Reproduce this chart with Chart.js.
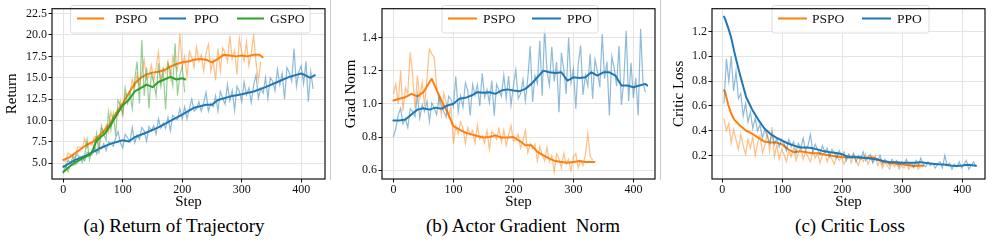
<!DOCTYPE html>
<html>
<head>
<meta charset="utf-8">
<script src="https://cdn.jsdelivr.net/npm/chart.js@4.4.1/dist/chart.umd.min.js"></script>
<style>
  html,body{margin:0;padding:0;background:#fff;}
  #wrap{position:relative;width:996px;height:245px;overflow:hidden;background:#fff;font-family:"Liberation Serif","Times New Roman",serif;}
  canvas{position:absolute;top:0;}
  .cap{position:absolute;top:214px;width:300px;text-align:center;font-size:19px;line-height:24px;color:#000;white-space:pre;}
  .sep{position:absolute;top:0;width:1px;height:180px;background:#c8c8c8;}
</style>
</head>
<body>
<div id="wrap">
  <canvas id="ca" width="330" height="212" style="left:0px"></canvas>
  <canvas id="cb" width="330" height="212" style="left:330px"></canvas>
  <canvas id="cc" width="336" height="212" style="left:660px"></canvas>
  <div class="sep" style="left:330px"></div>
  <div class="sep" style="left:660px"></div>
  <div class="cap" style="left:24px">(a) Return of Trajectory</div>
  <div class="cap" style="left:373px">(b) Actor Gradient  Norm</div>
  <div class="cap" style="left:700px">(c) Critic Loss</div>
</div>
<script>
// ---------------- DATA ----------------
const xTicks = [0, 100, 200, 300, 400];
const yTicksA = [5.0, 7.5, 10.0, 12.5, 15.0, 17.5, 20.0, 22.5];
const yTicksB = [0.6, 0.8, 1.0, 1.2, 1.4];
const yTicksC = [0.2, 0.4, 0.6, 0.8, 1.0, 1.2];
const seriesNamesA = ['PSPO', 'PPO', 'GSPO'];
const seriesNamesBC = ['PSPO', 'PPO'];

// step positions of the logged (raw) points
function grid(start, end, step){ const r=[]; for(let v=start; v<=end; v+=step) r.push(v); return r; }
const rawStepsPPO  = grid(0, 420, 4);
const rawStepsPSPO = grid(0, 332, 4);
const rawStepsGSPO = grid(0, 204, 4);
const rawStepsPPOc  = grid(3, 423, 4);
const rawStepsPSPOc = grid(3, 335, 4);

// (a) Return of Trajectory — raw
const retPPORaw = [
 4.8,4.5,5.4,5.0,4.8,5.7,6.1,5.4,5.8,5.3,
 6.3,6.2,6.0,7.2,6.1,6.9,6.7,7.3,6.5,7.5,
 7.3,7.0,8.0,8.7,7.4,6.8,8.4,8.0,7.5,9.2,
 7.4,8.3,7.8,9.2,8.8,7.6,9.3,8.8,9.4,8.4,
 10.2,9.1,9.7,9.1,10.4,8.8,10.6,10.3,10.1,11.4,
 10.2,11.6,10.2,11.4,12.5,11.1,11.4,12.2,11.1,12.1,
 13.3,11.1,12.0,11.6,12.9,11.1,13.4,12.6,11.9,14.2,
 12.3,13.5,11.2,14.0,13.4,12.2,14.5,13.0,13.8,12.1,
 14.1,15.3,12.6,13.8,13.2,15.0,12.6,15.0,14.6,13.5,
 16.0,14.2,15.5,12.5,16.2,15.6,14.6,18.4,14.0,15.7,
 16.4,14.3,16.9,12.2,15.7,13.7];
const retPSPORaw = [
 5.4,5.2,6.2,6.0,5.8,5.7,6.9,6.9,6.7,7.9,
 6.8,7.4,7.1,8.1,8.1,7.0,9.1,8.7,9.5,8.6,
 11.0,10.0,10.9,10.6,12.3,10.7,13.0,13.1,13.1,14.8,
 13.8,15.4,14.0,15.5,17.1,14.8,15.2,16.5,14.6,16.2,
 18.0,14.6,16.1,15.6,16.9,14.9,17.5,16.5,15.9,20.2,
 16.3,17.5,15.1,18.1,17.4,16.2,18.6,16.9,17.7,15.8,
 17.9,18.9,15.8,17.0,14.7,18.4,15.8,18.5,17.9,16.9,
 19.9,17.2,18.2,15.4,19.6,18.0,17.0,19.2,16.4,17.9,
 20.0,16.8,14.6,16.9];
const retGSPORaw = [
 3.8,4.8,4.0,4.9,5.8,4.8,5.1,5.8,5.1,6.0,
 7.8,5.4,6.5,6.5,8.5,6.1,9.4,8.4,7.7,11.0,
 8.9,10.8,8.2,12.4,11.8,10.7,13.8,12.0,13.2,11.4,
 14.7,16.9,12.0,19.4,12.9,16.2,11.4,15.5,14.5,12.9,
 16.7,14.0,15.8,11.3,16.7,15.8,14.1,19.0,12.9,15.3,
 16.3,13.3];
// (a) smoothed
const retPSPOSteps = [0,10,20,30,40,50,60,70,80,90,100,110,120,130,140,150,160,170,180,190,200,210,220,230,240,250,260,270,280,290,300,310,320,330,335];
const retPSPOSmooth = [5.4,5.7,6.2,6.7,7.2,7.5,8.2,8.9,9.8,11.0,12.0,13.2,14.3,15.0,15.4,15.6,15.7,15.9,16.3,16.6,16.8,16.9,17.1,17.2,17.1,16.8,17.2,17.7,17.6,17.5,17.6,17.5,17.7,17.7,17.4];
const retPPOSteps = [0,20,40,60,80,100,110,120,140,160,180,200,220,240,250,260,280,300,320,340,360,380,400,410,415,423];
const retPPOSmooth = [4.6,5.4,5.95,6.7,7.3,7.7,7.55,8.05,8.6,9.2,9.95,10.7,11.5,11.85,11.85,12.4,12.8,13.07,13.4,13.9,14.5,15.1,15.5,15.2,15.0,15.3];
const retGSPOSteps = [0,10,20,30,40,45,50,55,60,70,80,90,100,110,120,130,140,150,160,170,180,190,200,205];
const retGSPOSmooth = [4.0,4.6,5.1,5.5,5.85,6.0,6.6,7.5,7.9,8.5,9.5,10.7,11.8,12.4,13.4,13.8,14.2,13.9,14.5,14.8,15.1,14.8,14.95,14.8];

// (b) Actor Gradient Norm — raw
const gradPSPORaw = [
 1.06,1.12,1.00,1.20,0.956,1.096,1.064,1.31,1.177,0.973,
 1.17,1.031,1.129,0.986,1.154,1.33,1.30,1.28,1.108,1.02,
 0.932,1.064,1.004,0.923,0.984,0.76,0.867,0.819,0.891,0.854,
 0.761,0.857,0.813,0.839,0.765,0.871,0.787,0.809,0.763,0.839,
 0.725,0.834,0.813,0.787,0.852,0.767,0.842,0.747,0.813,0.869,
 0.775,0.781,0.817,0.732,0.781,0.84,0.705,0.76,0.727,0.756,
 0.655,0.742,0.694,0.656,0.738,0.65,0.689,0.588,0.699,0.667,
 0.615,0.703,0.636,0.666,0.598,0.68,0.70,0.614,0.658,0.627,
 0.695,0.82,0.685,0.66];
const gradPPORaw = [
 0.80,0.852,0.93,0.973,0.879,0.911,0.857,0.971,0.953,0.923,
 1.055,0.914,0.995,0.953,1.016,0.893,1.006,0.975,0.934,1.039,
 0.988,0.954,0.92,1.045,1.026,0.982,1.165,0.952,1.049,0.98,
 1.126,1.078,0.93,1.117,1.053,1.115,0.987,1.184,1.04,1.086,
 1.007,1.14,0.929,1.118,1.081,1.044,1.173,1.032,1.167,0.993,
 1.107,1.204,1.031,1.06,1.147,1.018,1.154,1.348,1.011,1.17,
 1.121,1.38,1.049,1.46,1.194,1.112,1.344,1.134,1.251,0.95,
 1.307,1.209,1.059,1.40,1.126,1.212,0.97,1.234,1.351,1.054,
 1.173,1.107,1.301,1.03,1.269,1.196,1.1,1.42,1.151,1.255,
 0.93,1.286,1.213,1.106,1.35,0.993,1.136,1.44,1.017,1.247,
 1.035,1.156,0.93,1.45,1.129,1.07];
// (b) smoothed
const gradPSPOSteps = [0,10,20,30,40,50,60,64,70,80,90,100,110,120,130,140,150,160,170,180,190,200,210,220,230,240,250,260,270,280,290,300,310,320,330,335];
const gradPSPOSmooth = [1.02,1.03,1.04,1.06,1.045,1.07,1.13,1.15,1.10,1.02,0.95,0.865,0.845,0.826,0.816,0.806,0.797,0.80,0.81,0.797,0.797,0.80,0.777,0.75,0.75,0.71,0.69,0.67,0.655,0.65,0.645,0.65,0.655,0.65,0.65,0.65];
const gradPPOSteps = [0,10,20,30,40,50,60,70,80,90,100,110,120,130,140,150,160,170,180,190,200,210,220,230,240,250,260,270,280,290,300,310,320,330,340,350,360,370,380,390,400,410,420,423];
const gradPPOSmooth = [0.90,0.90,0.905,0.935,0.965,0.973,0.965,0.977,0.97,0.99,1.0,1.03,1.036,1.05,1.07,1.066,1.07,1.06,1.08,1.087,1.08,1.075,1.09,1.12,1.16,1.20,1.19,1.185,1.19,1.14,1.16,1.155,1.16,1.19,1.17,1.19,1.19,1.17,1.11,1.11,1.10,1.11,1.12,1.11];

// (c) Critic Loss — raw
const lossPPORaw = [
 0.62,0.98,0.80,1.00,0.72,0.88,0.66,0.70,0.52,0.62,
 0.47,0.55,0.42,0.50,0.40,0.45,0.34,0.41,0.36,0.30,
 0.38,0.29,0.34,0.27,0.33,0.30,0.24,0.33,0.27,0.31,
 0.22,0.30,0.26,0.34,0.24,0.28,0.37,0.23,0.29,0.25,
 0.21,0.28,0.23,0.26,0.19,0.25,0.22,0.18,0.24,0.20,
 0.23,0.16,0.21,0.18,0.22,0.15,0.20,0.17,0.23,0.16,
 0.19,0.21,0.14,0.18,0.16,0.20,0.13,0.17,0.15,0.12,
 0.17,0.14,0.16,0.11,0.15,0.13,0.17,0.12,0.14,0.11,
 0.16,0.12,0.18,0.13,0.11,0.15,0.12,0.14,0.10,0.13,
 0.15,0.10,0.20,0.12,0.14,0.09,0.13,0.11,0.15,0.10,
 0.13,0.16,0.09,0.12,0.15,0.11];
const lossPSPORaw = [
 0.50,0.40,0.46,0.30,0.41,0.33,0.25,0.37,0.28,0.21,
 0.33,0.26,0.35,0.20,0.30,0.36,0.22,0.28,0.38,0.24,
 0.43,0.19,0.29,0.17,0.25,0.21,0.15,0.24,0.19,0.26,
 0.16,0.22,0.27,0.17,0.23,0.19,0.15,0.24,0.18,0.22,
 0.14,0.20,0.23,0.15,0.21,0.17,0.13,0.21,0.16,0.19,
 0.13,0.18,0.21,0.14,0.20,0.16,0.12,0.19,0.15,0.21,
 0.13,0.18,0.15,0.20,0.12,0.16,0.10,0.15,0.12,0.09,
 0.14,0.11,0.13,0.09,0.12,0.10,0.14,0.09,0.12,0.10,
 0.13,0.09,0.12,0.11];
// (c) smoothed
const lossPPOSteps = [3,5,10,15,20,25,30,40,50,60,70,80,90,100,110,120,130,140,150,160,170,180,190,200,210,220,230,240,250,260,270,280,290,300,310,320,330,340,350,360,370,380,390,400,410,420,423];
const lossPPOSmooth = [1.32,1.30,1.23,1.15,1.04,0.94,0.845,0.67,0.57,0.49,0.42,0.375,0.345,0.32,0.297,0.28,0.265,0.265,0.26,0.248,0.234,0.226,0.22,0.21,0.187,0.187,0.187,0.18,0.174,0.166,0.155,0.147,0.147,0.142,0.142,0.142,0.147,0.14,0.134,0.13,0.128,0.12,0.116,0.12,0.126,0.12,0.118];
const lossPSPOSteps = [3,5,10,15,20,30,40,50,60,70,80,90,100,110,120,130,140,150,160,170,180,190,200,210,220,230,240,250,260,270,280,290,300,310,320,330,335];
const lossPSPOSmooth = [0.726,0.71,0.61,0.54,0.49,0.44,0.40,0.376,0.345,0.313,0.305,0.305,0.29,0.25,0.226,0.234,0.226,0.218,0.218,0.208,0.2,0.192,0.187,0.187,0.192,0.18,0.18,0.187,0.166,0.147,0.14,0.134,0.129,0.121,0.116,0.12,0.118];

// ---------------- STYLE ----------------
const SERIF = '"Liberation Serif", "Times New Roman", serif';
const C_ORANGE = '#ff7f0e', C_BLUE = '#1f77b4', C_GREEN = '#2ca02c';
const RAW_COL = { '#ff7f0e':'rgba(255,127,14,0.5)', '#1f77b4':'rgba(31,119,180,0.5)', '#2ca02c':'rgba(44,160,44,0.5)' };
const H = 212;

function pts(xs, ys){ return xs.map((x,i)=>({x:x, y:ys[i]})); }
function rawDs(xs, ys, color, order){ return {data:pts(xs,ys), borderColor:RAW_COL[color], borderWidth:1.2, pointRadius:0, tension:0, order:order, fill:false}; }
function smDs(xs, ys, color, order){ return {data:pts(xs,ys), borderColor:color, borderWidth:2, pointRadius:0, tension:0, order:order, fill:false, borderJoinStyle:'round', borderCapStyle:'round'}; }

const framePlugin = {
  id: 'frameLegend',
  afterDatasetsDraw(chart, args, opts) {
    const ctx = chart.ctx, a = chart.chartArea;
    ctx.save();
    const b = opts.box;
    ctx.beginPath();
    if (ctx.roundRect) ctx.roundRect(b.x, b.y, b.w, b.h, 2.5); else ctx.rect(b.x, b.y, b.w, b.h);
    ctx.fillStyle = 'rgba(255,255,255,0.85)';
    ctx.fill();
    ctx.strokeStyle = '#dcdcdc';
    ctx.lineWidth = 1;
    ctx.stroke();
    ctx.font = '13.5px ' + SERIF;
    ctx.textBaseline = 'middle';
    ctx.textAlign = 'left';
    opts.items.forEach(it => {
      ctx.beginPath();
      ctx.moveTo(it.lx, b.ly); ctx.lineTo(it.lx + it.len, b.ly);
      ctx.strokeStyle = it.color; ctx.lineWidth = 2; ctx.stroke();
      ctx.fillStyle = '#111';
      ctx.fillText(it.text, it.tx, b.ly + 0.5);
    });
    ctx.strokeStyle = '#111';
    ctx.lineWidth = 1.2;
    ctx.strokeRect(a.left, a.top, a.right - a.left, a.bottom - a.top);
    ctx.restore();
  }
};

function panel(id, cfg) {
  const tickFont = {family: SERIF, size: 12};
  const titleFont = {family: SERIF, size: 15};
  new Chart(document.getElementById(id), {
    type: 'line',
    data: { datasets: cfg.datasets },
    options: {
      responsive: false, animation: false, devicePixelRatio: 1,
      layout: { padding: { top: 5, right: cfg.padRight, left: 0, bottom: 0 } },
      plugins: {
        legend: { display: false }, tooltip: { enabled: false },
        frameLegend: { items: cfg.legend, box: cfg.box }
      },
      scales: {
        x: {
          type: 'linear', min: cfg.xmin, max: cfg.xmax,
          afterFit(s) { s.height = H - 179; },
          afterBuildTicks(s) { s.ticks = xTicks.map(v => ({value: v})); },
          grid: { color: '#e4e4e4', lineWidth: 1, tickColor: '#111', tickLength: 3.5 },
          border: { display: false },
          ticks: { font: tickFont, color: '#111', padding: 0, maxRotation: 0, autoSkip: false, callback: v => String(v) },
          title: { display: true, text: 'Step', font: titleFont, color: '#000', padding: { top: 0, bottom: 1 } }
        },
        y: {
          type: 'linear', min: cfg.ymin, max: cfg.ymax,
          afterFit(s) { s.width = 52; },
          afterBuildTicks(s) { s.ticks = cfg.yTicks.map(v => ({value: v})); },
          grid: { color: '#e4e4e4', lineWidth: 1, tickColor: '#111', tickLength: 3.5 },
          border: { display: false },
          ticks: { font: tickFont, color: '#111', padding: 1.5, autoSkip: false, callback: v => Number(v).toFixed(1) },
          title: { display: true, text: cfg.ytitle, font: titleFont, color: '#000', padding: { top: cfg.ytPad, bottom: 0 } }
        }
      }
    },
    plugins: [framePlugin]
  });
}

panel('ca', {
  xmin: -19, xmax: 440, ymin: 3.17, ymax: 23.07, yTicks: yTicksA, ytitle: 'Return', ytPad: 3.5, padRight: 5,
  datasets: [
    rawDs(rawStepsPSPO, retPSPORaw, C_ORANGE, 6),
    smDs(retPSPOSteps, retPSPOSmooth, C_ORANGE, 5),
    rawDs(rawStepsPPO, retPPORaw, C_BLUE, 4),
    smDs(retPPOSteps, retPPOSmooth, C_BLUE, 3),
    rawDs(rawStepsGSPO, retGSPORaw, C_GREEN, 2),
    smDs(retGSPOSteps, retGSPOSmooth, C_GREEN, 1)
  ],
  box: { x: 70.5, y: 5.5, w: 239.5, h: 27.5, ly: 18.5 },
  legend: [
    { text: seriesNamesA[0], color: C_ORANGE, lx: 77, len: 27, tx: 115 },
    { text: seriesNamesA[1], color: C_BLUE, lx: 159, len: 27, tx: 194 },
    { text: seriesNamesA[2], color: C_GREEN, lx: 237, len: 27, tx: 270 }
  ]
});

panel('cb', {
  xmin: -19, xmax: 436, ymin: 0.547, ymax: 1.573, yTicks: yTicksB, ytitle: 'Grad Norm', ytPad: 12, padRight: 5,
  datasets: [
    rawDs(rawStepsPSPO, gradPSPORaw, C_ORANGE, 4),
    smDs(gradPSPOSteps, gradPSPOSmooth, C_ORANGE, 3),
    rawDs(rawStepsPPO, gradPPORaw, C_BLUE, 2),
    smDs(gradPPOSteps, gradPPOSmooth, C_BLUE, 1)
  ],
  box: { x: 112, y: 5.5, w: 156, h: 27.5, ly: 18.5 },
  legend: [
    { text: seriesNamesBC[0], color: C_ORANGE, lx: 118, len: 29, tx: 153 },
    { text: seriesNamesBC[1], color: C_BLUE, lx: 202, len: 29, tx: 237 }
  ]
});

panel('cc', {
  xmin: -17, xmax: 438, ymin: 0.011, ymax: 1.384, yTicks: yTicksC, ytitle: 'Critic Loss', ytPad: 10, padRight: 11,
  datasets: [
    rawDs(rawStepsPSPOc, lossPSPORaw, C_ORANGE, 4),
    smDs(lossPSPOSteps, lossPSPOSmooth, C_ORANGE, 3),
    rawDs(rawStepsPPOc, lossPPORaw, C_BLUE, 2),
    smDs(lossPPOSteps, lossPPOSmooth, C_BLUE, 1)
  ],
  box: { x: 112, y: 5.5, w: 157, h: 27.5, ly: 18.5 },
  legend: [
    { text: seriesNamesBC[0], color: C_ORANGE, lx: 118, len: 29, tx: 152 },
    { text: seriesNamesBC[1], color: C_BLUE, lx: 202, len: 29, tx: 237 }
  ]
});
</script>
</body>
</html>
